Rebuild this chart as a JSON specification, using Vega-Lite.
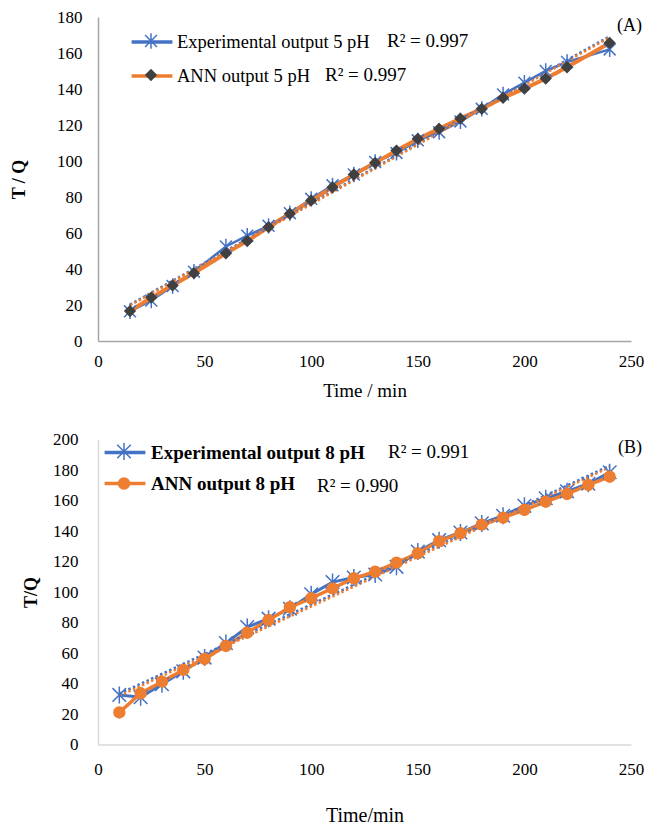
{
  "$schema": "https://vega.github.io/schema/vega-lite/v6.json",
  "padding": {"left": 10, "top": 8, "right": 0, "bottom": 0},
  "spacing": 30.5,
  "config": {
    "view": {"stroke": null},
    "font": "Liberation Serif",
    "axis": {"labelFont": "Liberation Serif", "titleFont": "Liberation Serif", "labelColor": "#000", "titleColor": "#000", "grid": false, "ticks": false, "tickSize": 0},
    "title": {"font": "Liberation Serif", "color": "#000", "fontWeight": "normal", "fontSize": 18}
  },
  "resolve": {"scale": {"color": "independent", "shape": "independent", "fill": "independent", "stroke": "independent", "strokeDash": "independent"}},
  "datasets": {
    "a": [
      {"series": "Experimental output 5 pH", "model": "Experimental", "r2": "R² = 0.997", "t": 15, "tq": 16.5},
      {"series": "Experimental output 5 pH", "model": "Experimental", "r2": "R² = 0.997", "t": 25, "tq": 22.5},
      {"series": "Experimental output 5 pH", "model": "Experimental", "r2": "R² = 0.997", "t": 35, "tq": 30.5},
      {"series": "Experimental output 5 pH", "model": "Experimental", "r2": "R² = 0.997", "t": 45, "tq": 38.5},
      {"series": "Experimental output 5 pH", "model": "Experimental", "r2": "R² = 0.997", "t": 60, "tq": 52.5},
      {"series": "Experimental output 5 pH", "model": "Experimental", "r2": "R² = 0.997", "t": 70, "tq": 58.5},
      {"series": "Experimental output 5 pH", "model": "Experimental", "r2": "R² = 0.997", "t": 80, "tq": 64},
      {"series": "Experimental output 5 pH", "model": "Experimental", "r2": "R² = 0.997", "t": 90, "tq": 71},
      {"series": "Experimental output 5 pH", "model": "Experimental", "r2": "R² = 0.997", "t": 100, "tq": 79},
      {"series": "Experimental output 5 pH", "model": "Experimental", "r2": "R² = 0.997", "t": 110, "tq": 86.5},
      {"series": "Experimental output 5 pH", "model": "Experimental", "r2": "R² = 0.997", "t": 120, "tq": 92.5},
      {"series": "Experimental output 5 pH", "model": "Experimental", "r2": "R² = 0.997", "t": 130, "tq": 99.5},
      {"series": "Experimental output 5 pH", "model": "Experimental", "r2": "R² = 0.997", "t": 140, "tq": 104.5},
      {"series": "Experimental output 5 pH", "model": "Experimental", "r2": "R² = 0.997", "t": 150, "tq": 111.5},
      {"series": "Experimental output 5 pH", "model": "Experimental", "r2": "R² = 0.997", "t": 160, "tq": 116},
      {"series": "Experimental output 5 pH", "model": "Experimental", "r2": "R² = 0.997", "t": 170, "tq": 122},
      {"series": "Experimental output 5 pH", "model": "Experimental", "r2": "R² = 0.997", "t": 180, "tq": 129},
      {"series": "Experimental output 5 pH", "model": "Experimental", "r2": "R² = 0.997", "t": 190, "tq": 137},
      {"series": "Experimental output 5 pH", "model": "Experimental", "r2": "R² = 0.997", "t": 200, "tq": 143.5},
      {"series": "Experimental output 5 pH", "model": "Experimental", "r2": "R² = 0.997", "t": 210, "tq": 150},
      {"series": "Experimental output 5 pH", "model": "Experimental", "r2": "R² = 0.997", "t": 220, "tq": 155},
      {"series": "Experimental output 5 pH", "model": "Experimental", "r2": "R² = 0.997", "t": 240, "tq": 162},
      {"series": "ANN output 5 pH", "model": "ANN", "r2": "R² = 0.997", "t": 15, "tq": 16.6},
      {"series": "ANN output 5 pH", "model": "ANN", "r2": "R² = 0.997", "t": 25, "tq": 24.1},
      {"series": "ANN output 5 pH", "model": "ANN", "r2": "R² = 0.997", "t": 35, "tq": 30.9},
      {"series": "ANN output 5 pH", "model": "ANN", "r2": "R² = 0.997", "t": 45, "tq": 37.7},
      {"series": "ANN output 5 pH", "model": "ANN", "r2": "R² = 0.997", "t": 60, "tq": 48.7},
      {"series": "ANN output 5 pH", "model": "ANN", "r2": "R² = 0.997", "t": 70, "tq": 55.5},
      {"series": "ANN output 5 pH", "model": "ANN", "r2": "R² = 0.997", "t": 80, "tq": 63.3},
      {"series": "ANN output 5 pH", "model": "ANN", "r2": "R² = 0.997", "t": 90, "tq": 70.7},
      {"series": "ANN output 5 pH", "model": "ANN", "r2": "R² = 0.997", "t": 100, "tq": 78.1},
      {"series": "ANN output 5 pH", "model": "ANN", "r2": "R² = 0.997", "t": 110, "tq": 85.4},
      {"series": "ANN output 5 pH", "model": "ANN", "r2": "R² = 0.997", "t": 120, "tq": 92.5},
      {"series": "ANN output 5 pH", "model": "ANN", "r2": "R² = 0.997", "t": 130, "tq": 99},
      {"series": "ANN output 5 pH", "model": "ANN", "r2": "R² = 0.997", "t": 140, "tq": 105.8},
      {"series": "ANN output 5 pH", "model": "ANN", "r2": "R² = 0.997", "t": 150, "tq": 112.3},
      {"series": "ANN output 5 pH", "model": "ANN", "r2": "R² = 0.997", "t": 160, "tq": 117.9},
      {"series": "ANN output 5 pH", "model": "ANN", "r2": "R² = 0.997", "t": 170, "tq": 123.6},
      {"series": "ANN output 5 pH", "model": "ANN", "r2": "R² = 0.997", "t": 180, "tq": 129},
      {"series": "ANN output 5 pH", "model": "ANN", "r2": "R² = 0.997", "t": 190, "tq": 135.1},
      {"series": "ANN output 5 pH", "model": "ANN", "r2": "R² = 0.997", "t": 200, "tq": 140.2},
      {"series": "ANN output 5 pH", "model": "ANN", "r2": "R² = 0.997", "t": 210, "tq": 145.8},
      {"series": "ANN output 5 pH", "model": "ANN", "r2": "R² = 0.997", "t": 220, "tq": 152.1},
      {"series": "ANN output 5 pH", "model": "ANN", "r2": "R² = 0.997", "t": 240, "tq": 165.6}
    ],
    "b": [
      {"series": "Experimental output 8 pH", "model": "Experimental", "r2": "R² = 0.991", "t": 10, "tq": 32.5},
      {"series": "Experimental output 8 pH", "model": "Experimental", "r2": "R² = 0.991", "t": 20, "tq": 31},
      {"series": "Experimental output 8 pH", "model": "Experimental", "r2": "R² = 0.991", "t": 30, "tq": 39.5},
      {"series": "Experimental output 8 pH", "model": "Experimental", "r2": "R² = 0.991", "t": 40, "tq": 48},
      {"series": "Experimental output 8 pH", "model": "Experimental", "r2": "R² = 0.991", "t": 50, "tq": 57},
      {"series": "Experimental output 8 pH", "model": "Experimental", "r2": "R² = 0.991", "t": 60, "tq": 66.5},
      {"series": "Experimental output 8 pH", "model": "Experimental", "r2": "R² = 0.991", "t": 70, "tq": 77},
      {"series": "Experimental output 8 pH", "model": "Experimental", "r2": "R² = 0.991", "t": 80, "tq": 82.5},
      {"series": "Experimental output 8 pH", "model": "Experimental", "r2": "R² = 0.991", "t": 90, "tq": 89},
      {"series": "Experimental output 8 pH", "model": "Experimental", "r2": "R² = 0.991", "t": 100, "tq": 98.5},
      {"series": "Experimental output 8 pH", "model": "Experimental", "r2": "R² = 0.991", "t": 110, "tq": 106.5},
      {"series": "Experimental output 8 pH", "model": "Experimental", "r2": "R² = 0.991", "t": 120, "tq": 109.5},
      {"series": "Experimental output 8 pH", "model": "Experimental", "r2": "R² = 0.991", "t": 130, "tq": 111.5},
      {"series": "Experimental output 8 pH", "model": "Experimental", "r2": "R² = 0.991", "t": 140, "tq": 116.5},
      {"series": "Experimental output 8 pH", "model": "Experimental", "r2": "R² = 0.991", "t": 150, "tq": 126.5},
      {"series": "Experimental output 8 pH", "model": "Experimental", "r2": "R² = 0.991", "t": 160, "tq": 134},
      {"series": "Experimental output 8 pH", "model": "Experimental", "r2": "R² = 0.991", "t": 170, "tq": 139},
      {"series": "Experimental output 8 pH", "model": "Experimental", "r2": "R² = 0.991", "t": 180, "tq": 145},
      {"series": "Experimental output 8 pH", "model": "Experimental", "r2": "R² = 0.991", "t": 190, "tq": 150},
      {"series": "Experimental output 8 pH", "model": "Experimental", "r2": "R² = 0.991", "t": 200, "tq": 156.5},
      {"series": "Experimental output 8 pH", "model": "Experimental", "r2": "R² = 0.991", "t": 210, "tq": 161.5},
      {"series": "Experimental output 8 pH", "model": "Experimental", "r2": "R² = 0.991", "t": 220, "tq": 166},
      {"series": "Experimental output 8 pH", "model": "Experimental", "r2": "R² = 0.991", "t": 230, "tq": 171},
      {"series": "Experimental output 8 pH", "model": "Experimental", "r2": "R² = 0.991", "t": 240, "tq": 178.5},
      {"series": "ANN output 8 pH", "model": "ANN", "r2": "R² = 0.990", "t": 10, "tq": 21},
      {"series": "ANN output 8 pH", "model": "ANN", "r2": "R² = 0.990", "t": 20, "tq": 33.6},
      {"series": "ANN output 8 pH", "model": "ANN", "r2": "R² = 0.990", "t": 30, "tq": 41.2},
      {"series": "ANN output 8 pH", "model": "ANN", "r2": "R² = 0.990", "t": 40, "tq": 48.9},
      {"series": "ANN output 8 pH", "model": "ANN", "r2": "R² = 0.990", "t": 50, "tq": 56.1},
      {"series": "ANN output 8 pH", "model": "ANN", "r2": "R² = 0.990", "t": 60, "tq": 64.6},
      {"series": "ANN output 8 pH", "model": "ANN", "r2": "R² = 0.990", "t": 70, "tq": 73.3},
      {"series": "ANN output 8 pH", "model": "ANN", "r2": "R² = 0.990", "t": 80, "tq": 81.6},
      {"series": "ANN output 8 pH", "model": "ANN", "r2": "R² = 0.990", "t": 90, "tq": 90},
      {"series": "ANN output 8 pH", "model": "ANN", "r2": "R² = 0.990", "t": 100, "tq": 95.9},
      {"series": "ANN output 8 pH", "model": "ANN", "r2": "R² = 0.990", "t": 110, "tq": 102.4},
      {"series": "ANN output 8 pH", "model": "ANN", "r2": "R² = 0.990", "t": 120, "tq": 109},
      {"series": "ANN output 8 pH", "model": "ANN", "r2": "R² = 0.990", "t": 130, "tq": 113.3},
      {"series": "ANN output 8 pH", "model": "ANN", "r2": "R² = 0.990", "t": 140, "tq": 119.2},
      {"series": "ANN output 8 pH", "model": "ANN", "r2": "R² = 0.990", "t": 150, "tq": 125.4},
      {"series": "ANN output 8 pH", "model": "ANN", "r2": "R² = 0.990", "t": 160, "tq": 133.4},
      {"series": "ANN output 8 pH", "model": "ANN", "r2": "R² = 0.990", "t": 170, "tq": 138.5},
      {"series": "ANN output 8 pH", "model": "ANN", "r2": "R² = 0.990", "t": 180, "tq": 144.2},
      {"series": "ANN output 8 pH", "model": "ANN", "r2": "R² = 0.990", "t": 190, "tq": 148.7},
      {"series": "ANN output 8 pH", "model": "ANN", "r2": "R² = 0.990", "t": 200, "tq": 153.8},
      {"series": "ANN output 8 pH", "model": "ANN", "r2": "R² = 0.990", "t": 210, "tq": 159.2},
      {"series": "ANN output 8 pH", "model": "ANN", "r2": "R² = 0.990", "t": 220, "tq": 164.3},
      {"series": "ANN output 8 pH", "model": "ANN", "r2": "R² = 0.990", "t": 230, "tq": 170.2},
      {"series": "ANN output 8 pH", "model": "ANN", "r2": "R² = 0.990", "t": 240, "tq": 175.6}
    ]
  },
  "vconcat": [
    {
      "width": 533,
      "height": 324,
      "data": {"name": "a"},
      "title": {"text": "(A)", "anchor": "end", "frame": "group", "offset": -27, "dx": 11},
      "encoding": {
        "x": {"field": "t", "type": "quantitative", "scale": {"domain": [0, 250], "nice": false},
              "axis": {"title": "Time / min", "values": [0, 50, 100, 150, 200, 250], "domainColor": "#A6A6A6", "domainWidth": 1.5, "labelPadding": 12, "labelFontSize": 17, "titleFontSize": 19, "titleFontWeight": "normal", "titlePadding": 12, "labelFlush": false}},
        "y": {"field": "tq", "type": "quantitative", "scale": {"domain": [0, 180], "nice": false},
              "axis": {"title": "T / Q", "values": [0, 20, 40, 60, 80, 100, 120, 140, 160, 180], "domainColor": "#A6A6A6", "domainWidth": 1.5, "labelPadding": 16, "labelFontSize": 17, "titleFontSize": 18, "titleFontWeight": "bold", "titlePadding": 28}}
      },
      "layer": [
        {
          "transform": [{"filter": "datum.model === 'Experimental'"}],
          "mark": {"type": "line", "strokeWidth": 2.5},
          "encoding": {"color": {"field": "series", "type": "nominal",
            "scale": {"domain": ["Experimental output 5 pH", "ANN output 5 pH"], "range": ["#4472C4", "#ED7D31"]},
            "legend": {"orient": "none", "legendX": 35, "legendY": 6, "direction": "vertical", "title": null, "symbolType": "M-1.2,0H1.2", "symbolSize": 1156, "symbolStrokeWidth": 3.5, "labelFont": "Liberation Serif", "labelFontSize": 18.5, "labelColor": "#000", "labelOffset": 6, "labelLimit": 0, "rowPadding": 5, "padding": 0}}}
        },
        {
          "transform": [{"filter": "datum.model === 'ANN'"}],
          "mark": {"type": "line", "strokeWidth": 4},
          "encoding": {
            "color": {"field": "series", "type": "nominal",
              "scale": {"domain": ["Experimental output 5 pH", "ANN output 5 pH"], "range": ["#4472C4", "#ED7D31"]},
              "legend": {"orient": "none", "legendX": 35, "legendY": 6, "direction": "vertical", "title": null, "symbolType": "M-1.2,0H1.2", "symbolSize": 1156, "symbolStrokeWidth": 3.5, "labelFont": "Liberation Serif", "labelFontSize": 18.5, "labelColor": "#000", "labelOffset": 6, "labelLimit": 0, "rowPadding": 5, "padding": 0}},
            "strokeDash": {"field": "r2", "type": "nominal", "scale": {"range": [[1, 0]]},
              "legend": {"orient": "none", "legendX": 208, "legendY": 48.5, "direction": "vertical", "title": null, "symbolSize": 0, "symbolStrokeWidth": 0, "symbolStrokeColor": "transparent", "labelFont": "Liberation Serif", "labelFontSize": 19, "labelColor": "#000", "labelOffset": 0, "labelLimit": 0, "padding": 0}}
          }
        },
        {
          "transform": [{"regression": "tq", "on": "t", "groupby": ["series"]}],
          "mark": {"type": "line", "strokeWidth": 2.5, "strokeDash": [2.5, 2.5]},
          "encoding": {"color": {"field": "series", "type": "nominal", "legend": null}}
        },
        {
          "mark": {"type": "point", "size": 1156, "strokeWidth": 1.5, "opacity": 1},
          "encoding": {
            "shape": {"field": "model", "type": "nominal",
              "scale": {"domain": ["Experimental", "ANN"], "range": ["M-0.35,-0.35L0.35,0.35M-0.35,0.35L0.35,-0.35M0,-0.45L0,0.45", "M0,-0.3L0.3,0L0,0.3L-0.3,0Z"]},
              "legend": {"orient": "none", "legendX": 35, "legendY": 6, "direction": "vertical", "title": null, "symbolSize": 1156, "symbolStrokeWidth": 1.5, "symbolOpacity": 1, "labelFont": "Liberation Serif", "labelFontSize": 19, "labelColor": "#000", "labelOffset": 218, "labelLimit": 0, "rowPadding": 5, "padding": 0,
                "labelExpr": "datum.value === 'Experimental' ? 'R² = 0.997' : ''"}},
            "fill": {"field": "model", "type": "nominal", "scale": {"domain": ["Experimental", "ANN"], "range": ["transparent", "#404040"]}, "legend": null},
            "stroke": {"field": "model", "type": "nominal", "scale": {"domain": ["Experimental", "ANN"], "range": ["#4472C4", "#404040"]}, "legend": null}
          }
        }
      ]
    },
    {
      "width": 533,
      "height": 305,
      "data": {"name": "b"},
      "title": {"text": "(B)", "anchor": "end", "frame": "group", "offset": -26, "dx": 11},
      "encoding": {
        "x": {"field": "t", "type": "quantitative", "scale": {"domain": [0, 250], "nice": false},
              "axis": {"title": "Time/min", "values": [0, 50, 100, 150, 200, 250], "domainColor": "#D9D9D9", "domainWidth": 1.5, "labelPadding": 17, "labelFontSize": 17, "titleFontSize": 20, "titleFontWeight": "normal", "titlePadding": 28, "labelFlush": false}},
        "y": {"field": "tq", "type": "quantitative", "scale": {"domain": [0, 200], "nice": false},
              "axis": {"title": "T/Q", "values": [0, 20, 40, 60, 80, 100, 120, 140, 160, 180, 200], "domainColor": "#D9D9D9", "domainWidth": 1.5, "labelPadding": 20, "labelFontSize": 17, "titleFontSize": 18, "titleFontWeight": "bold", "titlePadding": 12}}
      },
      "layer": [
        {
          "transform": [{"filter": "datum.model === 'Experimental'"}],
          "mark": {"type": "line", "strokeWidth": 3},
          "encoding": {"color": {"field": "series", "type": "nominal",
            "scale": {"domain": ["Experimental output 8 pH", "ANN output 8 pH"], "range": ["#4472C4", "#ED7D31"]},
            "legend": {"orient": "none", "legendX": 8, "legendY": -6, "direction": "vertical", "title": null, "symbolType": "M-1.2,0H1.2", "symbolSize": 1156, "symbolStrokeWidth": 3.5, "labelFont": "Liberation Serif", "labelFontSize": 19, "labelFontWeight": "bold", "labelColor": "#000", "labelOffset": 7, "labelLimit": 0, "rowPadding": 2, "padding": 0}}}
        },
        {
          "transform": [{"filter": "datum.model === 'ANN'"}],
          "mark": {"type": "line", "strokeWidth": 3.5},
          "encoding": {
            "color": {"field": "series", "type": "nominal",
              "scale": {"domain": ["Experimental output 8 pH", "ANN output 8 pH"], "range": ["#4472C4", "#ED7D31"]},
              "legend": {"orient": "none", "legendX": 8, "legendY": -6, "direction": "vertical", "title": null, "symbolType": "M-1.2,0H1.2", "symbolSize": 1156, "symbolStrokeWidth": 3.5, "labelFont": "Liberation Serif", "labelFontSize": 19, "labelFontWeight": "bold", "labelColor": "#000", "labelOffset": 7, "labelLimit": 0, "rowPadding": 2, "padding": 0}},
            "strokeDash": {"field": "r2", "type": "nominal", "scale": {"range": [[1, 0]]},
              "legend": {"orient": "none", "legendX": 200, "legendY": 36.5, "direction": "vertical", "title": null, "symbolSize": 0, "symbolStrokeWidth": 0, "symbolStrokeColor": "transparent", "labelFont": "Liberation Serif", "labelFontSize": 19, "labelColor": "#000", "labelOffset": 0, "labelLimit": 0, "padding": 0}}
          }
        },
        {
          "transform": [{"regression": "tq", "on": "t", "groupby": ["series"]}],
          "mark": {"type": "line", "strokeWidth": 2.5, "strokeDash": [2.5, 2.5]},
          "encoding": {"color": {"field": "series", "type": "nominal", "legend": null}}
        },
        {
          "mark": {"type": "point", "size": 1156, "strokeWidth": 1.5, "opacity": 1},
          "encoding": {
            "shape": {"field": "model", "type": "nominal",
              "scale": {"domain": ["Experimental", "ANN"], "range": ["M-0.4,-0.4L0.4,0.4M-0.4,0.4L0.4,-0.4M0,-0.5L0,0.5", "M0.32,0A0.32,0.32,0,1,1,-0.32,0A0.32,0.32,0,1,1,0.32,0Z"]},
              "legend": {"orient": "none", "legendX": 8, "legendY": -6, "direction": "vertical", "title": null, "symbolSize": 1156, "symbolStrokeWidth": 1.5, "symbolOpacity": 1, "labelFont": "Liberation Serif", "labelFontSize": 19, "labelColor": "#000", "labelOffset": 246, "labelLimit": 0, "rowPadding": 2, "padding": 0,
                "labelExpr": "datum.value === 'Experimental' ? 'R² = 0.991' : ''"}},
            "fill": {"field": "model", "type": "nominal", "scale": {"domain": ["Experimental", "ANN"], "range": ["transparent", "#ED7D31"]}, "legend": null},
            "stroke": {"field": "model", "type": "nominal", "scale": {"domain": ["Experimental", "ANN"], "range": ["#4472C4", "#ED7D31"]}, "legend": null}
          }
        }
      ]
    }
  ]
}
